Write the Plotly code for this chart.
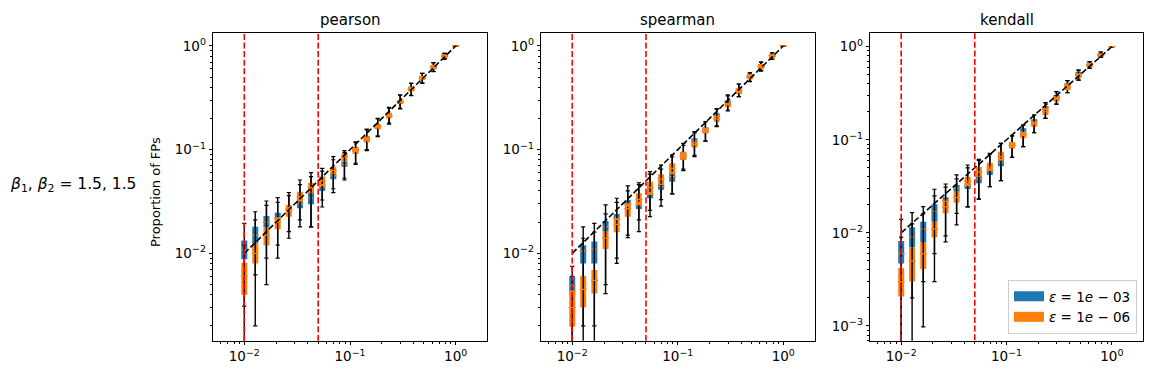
import plotly.graph_objects as go
from plotly.subplots import make_subplots

# alpha levels (x positions of the boxes)
alphas = [0.01, 0.0127, 0.0162, 0.0207, 0.0264, 0.0336, 0.0428, 0.0546, 0.0695, 0.0886,
          0.113, 0.144, 0.183, 0.234, 0.298, 0.379, 0.483, 0.616, 0.785, 1.0]
thresholds = [0.01, 0.05]
methods = ['pearson', 'spearman', 'kendall']
eps_labels = ['<i>ε</i> = 1<i>e</i> − 03', '<i>ε</i> = 1<i>e</i> − 06']

# --- pearson, eps = 1e-03 ---
pearson_e3_lo = [0.0031, 0.0062, 0.009, 0.012, 0.0162, 0.021, 0.018, 0.0327, 0.042, 0.053,
                 0.074, 0.10, 0.136, 0.18, 0.25, 0.335, 0.44, 0.57, 0.75, 0.995]
pearson_e3_q1 = [0.0088, 0.0125, 0.0178, 0.021, 0.026, 0.0272, 0.0297, 0.040, 0.052, 0.0686,
                 0.095, 0.12, 0.16, 0.205, 0.28, 0.368, 0.475, 0.60, 0.77, 0.998]
pearson_e3_med = [0.0108, 0.015, 0.020, 0.022, 0.027, 0.030, 0.034, 0.044, 0.056, 0.072,
                  0.10, 0.126, 0.168, 0.215, 0.29, 0.385, 0.495, 0.625, 0.80, 1.0]
pearson_e3_q3 = [0.0133, 0.0181, 0.0229, 0.0247, 0.028, 0.0332, 0.0385, 0.0467, 0.059, 0.0767,
                 0.104, 0.133, 0.175, 0.225, 0.30, 0.405, 0.514, 0.655, 0.83, 1.0]
pearson_e3_hi = [0.0195, 0.0252, 0.032, 0.0345, 0.0385, 0.046, 0.055, 0.062, 0.08, 0.094,
                 0.117, 0.155, 0.198, 0.252, 0.335, 0.435, 0.545, 0.69, 0.85, 1.0]

# --- pearson, eps = 1e-06 ---
pearson_e6_lo = [1e-4, 0.002, 0.005, 0.009, 0.014, 0.018, 0.018, 0.028, 0.0385, 0.051,
                 0.072, 0.098, 0.1336, 0.176, 0.247, 0.332, 0.436, 0.565, 0.745, 0.995]
pearson_e6_q1 = [0.0040, 0.0080, 0.0119, 0.0171, 0.0226, 0.0315, 0.038, 0.0447, 0.058, 0.0767,
                 0.091, 0.117, 0.157, 0.201, 0.276, 0.363, 0.47, 0.596, 0.76, 0.998]
pearson_e6_med = [0.006, 0.010, 0.015, 0.020, 0.026, 0.035, 0.043, 0.050, 0.063, 0.085,
                  0.098, 0.125, 0.166, 0.212, 0.288, 0.38, 0.49, 0.62, 0.79, 1.0]
pearson_e6_q3 = [0.0081, 0.0125, 0.0178, 0.0223, 0.0293, 0.0394, 0.048, 0.055, 0.0686, 0.092,
                 0.107, 0.1355, 0.177, 0.2275, 0.301, 0.405, 0.514, 0.656, 0.832, 1.0]
pearson_e6_hi = [0.012, 0.021, 0.029, 0.031, 0.036, 0.051, 0.060, 0.066, 0.0856, 0.098,
                 0.119, 0.158, 0.201, 0.256, 0.337, 0.436, 0.545, 0.69, 0.85, 1.0]

# --- spearman, eps = 1e-03 ---
spearman_e3_lo = [1e-4, 0.002, 0.002, 0.005, 0.009, 0.015, 0.021, 0.026, 0.033, 0.0374,
                  0.065, 0.088, 0.121, 0.17, 0.24, 0.325, 0.455, 0.575, 0.745, 0.995]
spearman_e3_q1 = [0.0040, 0.008, 0.008, 0.0162, 0.021, 0.0282, 0.0268, 0.034, 0.041, 0.049,
                  0.08, 0.115, 0.144, 0.205, 0.276, 0.35, 0.48, 0.60, 0.77, 0.998]
spearman_e3_med = [0.0049, 0.0105, 0.011, 0.018, 0.022, 0.030, 0.029, 0.037, 0.044, 0.055,
                   0.087, 0.122, 0.152, 0.215, 0.29, 0.37, 0.51, 0.635, 0.81, 1.0]
spearman_e3_q3 = [0.006, 0.012, 0.013, 0.0205, 0.024, 0.0327, 0.0315, 0.039, 0.047, 0.0614,
                  0.095, 0.129, 0.164, 0.224, 0.30, 0.39, 0.537, 0.67, 0.84, 1.0]
spearman_e3_hi = [0.0075, 0.018, 0.0195, 0.0293, 0.034, 0.0447, 0.048, 0.058, 0.065, 0.085,
                  0.11, 0.145, 0.186, 0.247, 0.33, 0.43, 0.55, 0.70, 0.86, 1.0]

# --- spearman, eps = 1e-06 ---
spearman_e6_lo = [1e-4, 1e-4, 1e-4, 0.0041, 0.008, 0.0142, 0.0162, 0.0226, 0.0286, 0.0374,
                  0.0628, 0.0857, 0.121, 0.167, 0.236, 0.325, 0.453, 0.575, 0.745, 0.995]
spearman_e6_q1 = [0.00196, 0.003, 0.0041, 0.011, 0.016, 0.0226, 0.0293, 0.0366, 0.0457, 0.058,
                  0.0796, 0.105, 0.144, 0.186, 0.256, 0.344, 0.477, 0.596, 0.76, 0.998]
spearman_e6_med = [0.003, 0.0045, 0.0055, 0.014, 0.019, 0.027, 0.033, 0.043, 0.052, 0.066,
                   0.087, 0.112, 0.152, 0.198, 0.27, 0.36, 0.50, 0.63, 0.80, 1.0]
spearman_e6_q3 = [0.0044, 0.0061, 0.0069, 0.0162, 0.0218, 0.0304, 0.038, 0.049, 0.058, 0.074,
                  0.0957, 0.119, 0.164, 0.211, 0.284, 0.391, 0.537, 0.67, 0.84, 1.0]
spearman_e6_hi = [0.006, 0.014, 0.016, 0.024, 0.031, 0.04, 0.046, 0.0614, 0.071, 0.089,
                  0.115, 0.149, 0.186, 0.247, 0.337, 0.43, 0.55, 0.70, 0.86, 1.0]

# --- kendall, eps = 1e-03 ---
kendall_e3_lo = [1e-4, 0.002, 0.003, 0.006, 0.0093, 0.0162, 0.019, 0.023, 0.0313, 0.0364,
                 0.0648, 0.0843, 0.119, 0.17, 0.242, 0.32, 0.438, 0.585, 0.768, 0.995]
kendall_e3_q1 = [0.0047, 0.0070, 0.008, 0.0132, 0.0216, 0.0277, 0.0296, 0.0341, 0.0419, 0.052,
                 0.081, 0.11, 0.15, 0.209, 0.272, 0.343, 0.484, 0.60, 0.78, 0.998]
kendall_e3_med = [0.006, 0.009, 0.011, 0.017, 0.0225, 0.030, 0.032, 0.038, 0.046, 0.057,
                  0.087, 0.121, 0.158, 0.22, 0.29, 0.37, 0.51, 0.635, 0.81, 1.0]
kendall_e3_q3 = [0.0082, 0.0115, 0.0132, 0.0203, 0.0241, 0.0327, 0.0346, 0.0408, 0.0494, 0.063,
                 0.0946, 0.133, 0.166, 0.231, 0.303, 0.404, 0.539, 0.673, 0.848, 1.0]
kendall_e3_hi = [0.014, 0.0165, 0.0191, 0.0294, 0.0335, 0.0419, 0.0536, 0.0617, 0.0716, 0.0917,
                 0.11, 0.144, 0.1845, 0.25, 0.329, 0.431, 0.56, 0.69, 0.876, 1.0]

# --- kendall, eps = 1e-06 ---
kendall_e6_lo = [1e-4, 1e-4, 0.00098, 0.003, 0.008, 0.0122, 0.019, 0.023, 0.0313, 0.0364,
                 0.0648, 0.0843, 0.119, 0.17, 0.242, 0.32, 0.438, 0.585, 0.768, 0.995]
kendall_e6_q1 = [0.00207, 0.003, 0.0041, 0.009, 0.0162, 0.0211, 0.0319, 0.040, 0.0466, 0.0597,
                 0.081, 0.104, 0.138, 0.1845, 0.257, 0.343, 0.457, 0.60, 0.78, 0.998]
kendall_e6_med = [0.003, 0.005, 0.006, 0.011, 0.019, 0.024, 0.036, 0.045, 0.051, 0.066,
                  0.087, 0.113, 0.147, 0.20, 0.273, 0.37, 0.49, 0.635, 0.81, 1.0]
kendall_e6_q3 = [0.0042, 0.0070, 0.008, 0.0132, 0.0222, 0.0277, 0.040, 0.0507, 0.0568, 0.0745,
                 0.0946, 0.122, 0.156, 0.218, 0.29, 0.404, 0.517, 0.673, 0.848, 1.0]
kendall_e6_hi = [0.009, 0.0125, 0.016, 0.025, 0.031, 0.038, 0.05, 0.06, 0.07, 0.0917,
                 0.11, 0.144, 0.1845, 0.25, 0.329, 0.431, 0.56, 0.69, 0.876, 1.0]

BLUE = '#1f77b4'
ORANGE = '#ff7f0e'
FONT = 'DejaVu Sans'

# страница имеет отступ body 8px, поэтому фигура чуть меньше окна
W, H, OFF = 1144, 370, 8


def fx(p):
    return (p - OFF) / W


def fy(p):
    return 1 - (p - OFF) / H


panels = [
    [(pearson_e3_lo, pearson_e3_q1, pearson_e3_med, pearson_e3_q3, pearson_e3_hi),
     (pearson_e6_lo, pearson_e6_q1, pearson_e6_med, pearson_e6_q3, pearson_e6_hi)],
    [(spearman_e3_lo, spearman_e3_q1, spearman_e3_med, spearman_e3_q3, spearman_e3_hi),
     (spearman_e6_lo, spearman_e6_q1, spearman_e6_med, spearman_e6_q3, spearman_e6_hi)],
    [(kendall_e3_lo, kendall_e3_q1, kendall_e3_med, kendall_e3_q3, kendall_e3_hi),
     (kendall_e6_lo, kendall_e6_q1, kendall_e6_med, kendall_e6_q3, kendall_e6_hi)],
]
y_ranges = [[-2.842, 0.128], [-2.842, 0.128], [-3.158, 0.150]]
x_domains = [[fx(213), fx(487)], [fx(541), fx(814.5)], [fx(870), fx(1143)]]
y_domain = [fy(340.7), fy(32.7)]


def segments(xs, y0s, y1s):
    X, Y = [], []
    for x, a, b in zip(xs, y0s, y1s):
        X += [x, x, None]
        Y += [a, b, None]
    return X, Y


fig = make_subplots(rows=1, cols=3)

for c, series in enumerate(panels, start=1):
    # === Боксы (патчи рисуются первыми) ===
    for (lo, q1, med, q3, hi), color in zip(series, [BLUE, ORANGE]):
        X, Y = segments(alphas, q1, q3)
        fig.add_trace(go.Scatter(x=X, y=Y, mode='lines', line=dict(color=color, width=6),
                                 showlegend=False, hoverinfo='skip'), row=1, col=c)
    # === Усы, шапки, медианы ===
    for (lo, q1, med, q3, hi), color in zip(series, [BLUE, ORANGE]):
        X1, Y1 = segments(alphas, lo, q1)
        X2, Y2 = segments(alphas, q3, hi)
        fig.add_trace(go.Scatter(x=X1 + X2, y=Y1 + Y2, mode='lines',
                                 line=dict(color='black', width=1.4),
                                 showlegend=False, hoverinfo='skip'), row=1, col=c)
        fig.add_trace(go.Scatter(x=alphas + alphas, y=lo + hi, mode='markers',
                                 marker=dict(symbol='line-ew', size=3,
                                             line=dict(color='black', width=1.2)),
                                 showlegend=False, hoverinfo='skip'), row=1, col=c)
        fig.add_trace(go.Scatter(x=alphas, y=med, mode='markers',
                                 marker=dict(symbol='line-ew', size=5,
                                             line=dict(color=ORANGE, width=1.2)),
                                 showlegend=False, hoverinfo='skip'), row=1, col=c)
    # === Диагональ y = x ===
    fig.add_trace(go.Scatter(x=alphas, y=alphas, mode='lines',
                             line=dict(color='black', width=1.6, dash='6px,2.6px'),
                             showlegend=False, hoverinfo='skip'), row=1, col=c)
    # === Пороговые линии ===
    for t in thresholds:
        fig.add_trace(go.Scatter(x=[t, t], y=[1e-5, 10], mode='lines',
                                 line=dict(color='red', width=1.6, dash='6px,2.6px'),
                                 showlegend=False, hoverinfo='skip'), row=1, col=c)

# легенда
for label, color in zip(eps_labels, [BLUE, ORANGE]):
    fig.add_trace(go.Scatter(x=[None], y=[None], mode='lines', name=label,
                             line=dict(color=color, width=10)), row=1, col=3)

x_minor = [m * 10 ** e for e in (-3, -2, -1) for m in range(2, 10)] + [2]
y_minor = [m * 10 ** e for e in (-4, -3, -2, -1) for m in range(2, 10)]

for c in range(1, 4):
    fig.update_xaxes(
        type='log', range=[-2.296, 0.296], domain=x_domains[c - 1],
        tickvals=[0.01, 0.1, 1], ticktext=['10<sup>−2</sup>', '10<sup>−1</sup>', '10<sup>0</sup>'],
        ticks='outside', ticklen=3.5, tickwidth=0.8, tickcolor='black',
        minor=dict(tickvals=x_minor, ticks='outside', ticklen=2, tickwidth=0.6, tickcolor='black'),
        showline=True, linecolor='black', linewidth=0.8, mirror=True,
        showgrid=False, zeroline=False, tickfont=dict(size=13.5, color='black'),
        row=1, col=c)
    yt = [0.01, 0.1, 1] if c < 3 else [0.001, 0.01, 0.1, 1]
    ytt = ['10<sup>−2</sup>', '10<sup>−1</sup>', '10<sup>0</sup>']
    if c == 3:
        ytt = ['10<sup>−3</sup>'] + ytt
    fig.update_yaxes(
        type='log', range=y_ranges[c - 1], domain=y_domain,
        tickvals=yt, ticktext=ytt,
        ticks='outside', ticklen=3.5, tickwidth=0.8, tickcolor='black',
        minor=dict(tickvals=y_minor, ticks='outside', ticklen=2, tickwidth=0.6, tickcolor='black'),
        showline=True, linecolor='black', linewidth=0.8, mirror=True,
        showgrid=False, zeroline=False, tickfont=dict(size=13.5, color='black'),
        row=1, col=c)

# заголовки панелей
for name, dom in zip(methods, x_domains):
    fig.add_annotation(text=name, x=(dom[0] + dom[1]) / 2, y=fy(20), xref='paper', yref='paper',
                       xanchor='center', yanchor='middle',
                       showarrow=False, font=dict(size=15, color='black'))

fig.add_annotation(text='Proportion of FPs', x=fx(155), y=fy(192), xref='paper', yref='paper',
                   xanchor='center', yanchor='middle',
                   textangle=-90, showarrow=False, font=dict(size=13, color='black'))
fig.add_annotation(text='<i>β</i><sub>1</sub>, <i>β</i><sub>2</sub> = 1.5, 1.5',
                   x=fx(73), y=fy(185), xref='paper', yref='paper',
                   xanchor='center', yanchor='middle',
                   showarrow=False, font=dict(size=15.5, color='black'))

fig.update_layout(
    width=W, height=H,
    paper_bgcolor='white', plot_bgcolor='white',
    font=dict(family=FONT, color='black'),
    margin=dict(l=0, r=0, t=0, b=0),
    showlegend=True,
    legend=dict(x=fx(1137), y=fy(334), xanchor='right', yanchor='bottom',
                bgcolor='rgba(255,255,255,0.8)', bordercolor='#cccccc', borderwidth=1,
                font=dict(size=13.5), tracegroupgap=2),
)

fig.write_html("out.html")
